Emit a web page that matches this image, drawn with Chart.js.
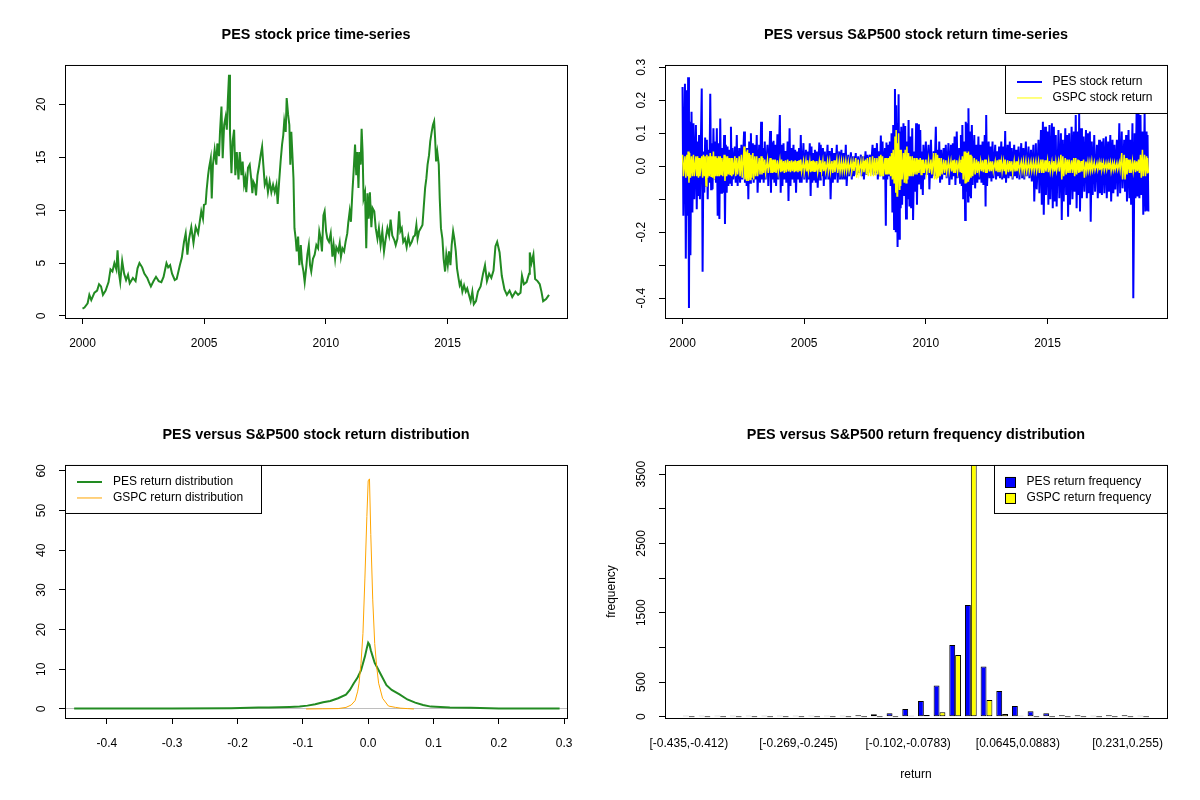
<!DOCTYPE html>
<html>
<head>
<meta charset="utf-8">
<title>PES vs S&amp;P500</title>
<script src="https://cdn.jsdelivr.net/npm/chart.js"></script>
<style>
  body { margin: 0; background: #fff; }
  #wrap { position: relative; width: 1200px; height: 800px; background: #fff; }
  #wrap canvas { position: absolute; }
</style>
</head>
<body>
<div id="wrap">
  <canvas id="c1" width="600" height="400" style="left:0;top:0"></canvas>
  <canvas id="c2" width="600" height="400" style="left:600px;top:0"></canvas>
  <canvas id="c3" width="600" height="400" style="left:0;top:400px"></canvas>
  <canvas id="c4" width="600" height="400" style="left:600px;top:400px"></canvas>
</div>
<script>
// ---- price series ----
const priceYears = [
  2000.00,2000.08,2000.21,2000.28,2000.36,2000.49,2000.60,2000.68,2000.76,2000.84,2000.95,
  2001.07,2001.15,2001.23,2001.31,2001.39,2001.44,2001.50,2001.55,2001.63,2001.71,2001.79,2001.87,2001.94,
  2002.07,2002.18,2002.26,2002.34,2002.45,2002.54,2002.66,2002.73,2002.81,2002.92,
  2003.02,2003.13,2003.24,2003.33,2003.45,2003.52,2003.60,2003.68,2003.79,2003.87,
  2004.00,2004.08,
  2004.17,2004.24,2004.31,2004.38,2004.47,2004.56,2004.65,2004.75,2004.83,2004.88,2004.95,2004.99,
  2005.06,2005.10,2005.16,2005.20,2005.27,2005.31,2005.36,2005.43,2005.50,2005.54,2005.61,2005.65,
  2005.71,2005.76,2005.82,2005.88,2005.93,2005.97,
  2006.02,2006.06,2006.12,2006.17,2006.23,2006.28,2006.34,2006.41,2006.46,2006.53,2006.58,2006.64,
  2006.69,2006.73,2006.80,2006.87,2006.93,2006.98,
  2007.02,2007.08,2007.13,2007.19,2007.25,2007.32,2007.38,2007.43,2007.49,2007.56,2007.62,2007.69,
  2007.76,2007.83,2007.90,2007.97,
  2008.02,2008.08,2008.14,2008.20,2008.25,2008.29,2008.35,2008.39,2008.45,2008.50,2008.54,2008.58,
  2008.62,2008.67,2008.71,2008.76,2008.80,2008.86,2008.91,2008.97,
  2009.02,2009.08,2009.13,2009.19,2009.24,2009.30,2009.35,2009.40,2009.47,2009.54,2009.61,2009.68,
  2009.73,2009.79,2009.84,2009.90,2009.95,
  2010.01,2010.06,2010.13,2010.20,2010.27,2010.32,2010.38,2010.43,2010.51,2010.57,2010.62,2010.68,
  2010.75,2010.81,2010.88,2010.92,2010.98,
  2011.03,2011.09,2011.14,2011.20,2011.25,2011.29,2011.34,2011.38,2011.43,2011.47,2011.51,2011.55,
  2011.61,2011.66,2011.71,2011.76,2011.81,2011.87,2011.92,2011.99,
  2012.05,2012.12,2012.18,2012.25,2012.32,2012.39,2012.46,2012.53,2012.60,2012.66,2012.73,2012.81,
  2012.87,2012.94,
  2013.01,2013.06,2013.12,2013.18,2013.25,2013.32,2013.39,2013.46,2013.53,2013.60,2013.66,2013.72,
  2013.77,2013.83,2013.90,2013.97,
  2014.02,2014.08,2014.13,2014.18,2014.24,2014.29,2014.35,2014.40,2014.45,2014.49,2014.53,2014.58,
  2014.64,2014.68,2014.73,2014.79,2014.84,2014.90,2014.95,
  2015.01,2015.06,2015.12,2015.17,2015.23,2015.28,2015.34,2015.39,2015.45,2015.50,2015.55,2015.61,
  2015.68,2015.75,2015.81,2015.88,2015.95,2016.02,
  2016.08,2016.17,2016.25,2016.36,2016.46,2016.54,2016.62,2016.71,2016.80,2016.89,2016.97,
  2017.04,2017.14,2017.23,2017.34,2017.44,2017.55,2017.66,2017.79,2017.90,
  2018.00,2018.06,2018.14,2018.25,2018.35,2018.38,2018.45,2018.53,2018.60,2018.70,2018.79,2018.86,2018.93,
  2019.05,2019.17
];
const priceValues = [
  0.7,0.8,1.2,2.0,1.5,2.2,2.4,3.0,2.8,2.0,2.4,
  3.2,4.4,4.2,5.0,4.4,6.2,4.0,3.2,5.2,4.0,3.4,3.9,3.1,
  3.6,3.3,4.5,5.0,4.6,4.0,3.6,3.2,2.8,3.3,
  3.7,3.3,3.2,3.7,5.0,4.6,4.8,4.0,3.4,3.5,
  4.8,5.5,
  7.0,7.8,5.8,7.3,8.4,6.9,8.4,7.8,9.1,9.9,9.2,10.5,
  10.6,11.9,13.3,14.0,14.9,11.1,14.3,15.7,14.3,16.3,15.1,17.4,
  19.8,14.9,18.05,18.8,17.6,20.3,
  22.8,17.4,13.5,16.5,17.6,13.3,15.5,12.9,15.5,13.3,14.6,12.4,
  13.0,11.7,14.0,14.3,13.0,11.6,
  12.7,12.4,11.4,13.3,14.1,15.2,16.0,14.3,12.4,12.9,11.7,12.7,
  11.7,12.4,11.7,12.4,
  10.6,12.7,14.6,16.2,17.1,18.4,17.4,20.6,19.0,18.05,14.3,17.4,
  15.5,13.0,8.3,7.3,6.1,7.5,4.8,6.7,
  5.0,4.2,3.2,4.5,5.8,6.7,4.8,4.2,5.4,5.8,6.7,6.4,
  8.0,7.3,6.1,9.5,9.9,
  8.0,7.3,7.0,7.8,5.6,6.7,5.4,6.5,6.1,6.9,5.6,6.4,
  6.1,7.0,7.8,8.8,9.9,
  8.9,11.7,13.6,16.2,13.3,15.5,12.1,15.5,14.3,17.7,15.5,11.1,
  11.7,6.4,11.6,9.2,11.7,8.4,10.2,9.9,
  8.3,7.3,8.3,6.7,8.0,6.1,7.3,8.3,7.6,9.1,7.6,7.2,
  6.7,7.3,
  9.9,8.0,8.3,7.0,7.3,6.5,7.5,6.7,7.0,7.5,7.6,8.6,
  7.3,8.0,8.3,8.6,
  10.2,12.1,13.0,14.3,15.2,16.5,17.4,18.05,18.4,16.8,14.6,15.5,
  14.3,11.1,8.3,7.3,5.4,4.2,5.8,
  4.8,6.1,4.8,6.7,8.0,7.3,6.1,4.5,3.6,2.9,3.2,2.3,
  2.9,2.3,2.6,2.0,1.4,2.3,
  1.1,1.4,2.3,2.8,4.0,4.8,3.3,4.0,3.6,4.3,6.6,
  7.0,6.0,3.8,2.5,2.0,2.4,1.8,2.3,2.0,
  2.2,3.8,3.0,3.2,4.0,6.0,5.0,5.8,3.5,3.3,3.0,2.3,1.4,
  1.6,2.0
];

// ---- daily returns, as swings up/down per short period ----
const retYears = [
  2000.00,2000.10,2000.18,2000.23,2000.29,2000.37,2000.45,2000.55,2000.62,2000.68,2000.79,2000.86,2000.93,
  2001.00,2001.07,2001.14,2001.20,2001.27,2001.34,2001.41,2001.48,2001.55,2001.62,2001.71,2001.78,2001.85,2001.92,2001.99,
  2002.05,2002.15,2002.23,2002.33,2002.42,2002.53,2002.60,2002.67,2002.74,2002.81,2002.89,2002.97,
  2003.05,2003.15,2003.23,2003.30,2003.38,2003.49,2003.60,2003.67,2003.74,2003.81,2003.90,
  2004.00,2004.07,2004.15,2004.23,2004.32,2004.40,2004.48,2004.56,2004.63,2004.71,2004.79,2004.86,2004.97,
  2005.07,2005.14,2005.23,2005.30,2005.37,2005.44,2005.52,2005.62,2005.68,2005.77,2005.85,2005.96,
  2006.05,2006.14,2006.23,2006.34,2006.44,2006.53,2006.62,2006.71,2006.81,2006.92,
  2007.01,2007.12,2007.22,2007.33,2007.42,2007.52,2007.60,2007.70,2007.81,2007.90,2007.99,
  2008.08,2008.15,2008.22,2008.32,2008.38,2008.45,2008.52,2008.59,2008.66,2008.73,2008.78,2008.82,2008.88,2008.93,2008.99,
  2009.08,2009.15,2009.22,2009.29,2009.36,2009.44,2009.52,2009.60,2009.68,2009.77,2009.84,2009.90,
  2010.00,2010.11,2010.21,2010.32,2010.41,2010.48,2010.55,2010.63,2010.73,2010.82,2010.93,
  2011.03,2011.11,2011.18,2011.27,2011.37,2011.44,2011.50,2011.58,2011.64,2011.70,2011.75,2011.82,2011.89,2011.99,
  2012.08,2012.16,2012.25,2012.33,2012.42,2012.48,2012.58,2012.66,2012.74,2012.85,2012.93,
  2013.01,2013.10,2013.19,2013.26,2013.36,2013.45,2013.53,2013.63,2013.71,2013.81,2013.92,
  2014.01,2014.11,2014.22,2014.32,2014.42,2014.52,2014.63,2014.73,2014.81,2014.90,
  2015.00,2015.08,2015.18,2015.26,2015.34,2015.45,2015.55,2015.63,2015.73,2015.81,2015.89,2015.99,
  2016.08,2016.16,2016.25,2016.30,2016.38,2016.48,2016.58,2016.66,2016.74,2016.82,2016.92,
  2017.03,2017.12,2017.20,2017.30,2017.40,2017.49,2017.58,2017.67,2017.75,2017.85,2017.95,
  2018.05,2018.15,2018.23,2018.33,2018.40,2018.49,2018.58,2018.66,2018.74,2018.82,2018.90,2018.99,
  2019.07,2019.11
];
const pesRetHigh = [
  0.24,0.25,0.23,0.27,0.135,0.165,0.13,0.125,0.075,0.095,0.236,0.045,0.087,
  0.08,0.05,0.22,0.07,0.115,0.075,0.115,0.07,0.145,0.055,0.095,0.065,0.06,0.05,0.12,
  0.055,0.06,0.095,0.055,0.065,0.105,0.055,0.055,0.075,0.10,0.07,0.065,
  0.095,0.065,0.135,0.055,0.075,0.065,0.107,0.073,0.077,0.065,0.097,
  0.155,0.065,0.07,0.046,0.075,0.115,0.055,0.065,0.05,0.045,0.055,0.095,0.07,
  0.05,0.045,0.07,0.06,0.04,0.05,0.045,0.072,0.065,0.055,0.045,0.065,
  0.046,0.055,0.04,0.065,0.045,0.05,0.04,0.065,0.035,0.042,
  0.03,0.04,0.03,0.035,0.03,0.045,0.035,0.035,0.065,0.055,0.07,
  0.045,0.093,0.075,0.055,0.072,0.065,0.075,0.10,0.125,0.234,0.185,0.13,0.218,0.105,0.12,
  0.13,0.122,0.075,0.14,0.09,0.115,0.045,0.13,0.127,0.11,0.045,0.065,
  0.075,0.065,0.08,0.045,0.12,0.05,0.075,0.05,0.055,0.065,0.07,
  0.065,0.07,0.09,0.105,0.055,0.095,0.125,0.075,0.135,0.13,0.176,0.105,0.125,0.095,
  0.065,0.09,0.065,0.075,0.095,0.155,0.075,0.06,0.075,0.065,0.045,
  0.06,0.075,0.06,0.107,0.065,0.075,0.055,0.065,0.05,0.06,0.07,
  0.055,0.075,0.06,0.05,0.065,0.07,0.08,0.11,0.135,0.12,
  0.105,0.125,0.13,0.12,0.095,0.11,0.10,0.08,0.115,0.095,0.10,0.12,
  0.105,0.155,0.105,0.16,0.115,0.09,0.11,0.10,0.105,0.075,0.095,
  0.065,0.08,0.075,0.085,0.09,0.075,0.095,0.08,0.065,0.08,0.13,
  0.105,0.08,0.095,0.11,0.08,0.13,0.10,0.16,0.165,0.155,0.105,0.16,
  0.105,0.095
];
const pesRetLow = [
  -0.15,-0.28,-0.15,-0.43,-0.27,-0.14,-0.10,-0.13,-0.09,-0.10,-0.32,-0.08,-0.06,
  -0.10,-0.05,-0.07,-0.07,-0.04,-0.05,-0.15,-0.16,-0.08,-0.08,-0.175,-0.08,-0.06,-0.05,-0.06,
  -0.04,-0.05,-0.06,-0.05,-0.04,-0.05,-0.06,-0.10,-0.05,-0.04,-0.05,-0.04,
  -0.08,-0.05,-0.04,-0.05,-0.04,-0.06,-0.08,-0.04,-0.05,-0.06,-0.04,
  -0.08,-0.06,-0.04,-0.05,-0.105,-0.06,-0.04,-0.05,-0.08,-0.04,-0.05,-0.05,-0.04,
  -0.05,-0.04,-0.09,-0.05,-0.04,-0.05,-0.065,-0.04,-0.03,-0.06,-0.04,-0.04,
  -0.10,-0.05,-0.04,-0.05,-0.04,-0.04,-0.04,-0.06,-0.03,-0.04,
  -0.03,-0.026,-0.02,-0.03,-0.04,-0.026,-0.02,-0.016,-0.026,-0.02,-0.04,
  -0.03,-0.026,-0.04,-0.18,-0.04,-0.03,-0.06,-0.14,-0.19,-0.20,-0.09,-0.245,-0.22,-0.127,-0.117,
  -0.09,-0.158,-0.10,-0.122,-0.127,-0.163,-0.077,-0.117,-0.055,-0.067,-0.087,-0.04,
  -0.026,-0.07,-0.036,-0.03,-0.036,-0.03,-0.05,-0.04,-0.026,-0.036,-0.057,
  -0.04,-0.03,-0.057,-0.036,-0.05,-0.06,-0.10,-0.163,-0.077,-0.107,-0.092,-0.097,-0.057,-0.067,
  -0.05,-0.04,-0.05,-0.057,-0.122,-0.06,-0.036,-0.046,-0.036,-0.04,-0.03,
  -0.036,-0.04,-0.036,-0.05,-0.036,-0.03,-0.04,-0.03,-0.036,-0.04,-0.036,
  -0.04,-0.03,-0.036,-0.046,-0.107,-0.07,-0.082,-0.117,-0.147,-0.087,
  -0.117,-0.10,-0.127,-0.107,-0.122,-0.097,-0.163,-0.107,-0.087,-0.153,-0.117,-0.10,
  -0.077,-0.127,-0.087,-0.137,-0.097,-0.077,-0.097,-0.082,-0.168,-0.087,-0.077,
  -0.097,-0.082,-0.087,-0.082,-0.097,-0.077,-0.107,-0.082,-0.07,-0.092,-0.082,
  -0.067,-0.077,-0.107,-0.097,-0.117,-0.40,-0.097,-0.092,-0.097,-0.087,-0.147,-0.137,
  -0.132,-0.137
];
const gspcRetHigh = [
  0.035,0.03,0.035,0.045,0.04,0.03,0.035,0.03,0.03,0.025,0.03,0.035,0.03,
  0.035,0.03,0.04,0.03,0.045,0.03,0.025,0.03,0.03,0.025,0.035,0.03,0.03,0.025,0.025,
  0.025,0.03,0.025,0.03,0.035,0.06,0.045,0.05,0.04,0.035,0.04,0.03,
  0.03,0.025,0.03,0.025,0.02,0.02,0.025,0.02,0.02,0.02,0.018,
  0.018,0.02,0.016,0.018,0.02,0.016,0.018,0.015,0.018,0.016,0.018,0.02,0.016,
  0.016,0.018,0.015,0.016,0.018,0.015,0.016,0.015,0.018,0.016,0.015,0.016,
  0.015,0.016,0.018,0.02,0.016,0.015,0.014,0.016,0.014,0.015,
  0.014,0.025,0.02,0.015,0.016,0.02,0.025,0.028,0.03,0.025,0.025,
  0.03,0.035,0.03,0.025,0.025,0.025,0.03,0.04,0.05,0.09,0.11,0.07,0.10,0.05,0.05,
  0.04,0.05,0.06,0.04,0.03,0.03,0.025,0.025,0.02,0.025,0.02,0.02,
  0.02,0.02,0.02,0.04,0.04,0.035,0.025,0.025,0.02,0.018,0.016,
  0.016,0.018,0.02,0.018,0.016,0.02,0.03,0.045,0.045,0.04,0.045,0.035,0.03,0.025,
  0.02,0.015,0.015,0.018,0.02,0.02,0.016,0.015,0.015,0.015,0.018,
  0.02,0.015,0.015,0.02,0.018,0.016,0.015,0.016,0.015,0.014,0.014,
  0.015,0.016,0.014,0.014,0.014,0.015,0.016,0.02,0.02,0.018,
  0.018,0.016,0.014,0.016,0.014,0.016,0.035,0.03,0.025,0.02,0.02,0.018,
  0.025,0.025,0.02,0.018,0.016,0.02,0.014,0.012,0.012,0.015,0.012,
  0.01,0.012,0.01,0.012,0.01,0.01,0.012,0.01,0.01,0.01,0.012,
  0.04,0.035,0.025,0.02,0.02,0.015,0.018,0.015,0.02,0.035,0.05,0.035,
  0.03,0.025
];
const gspcRetLow = [
  -0.03,-0.035,-0.03,-0.05,-0.035,-0.03,-0.03,-0.03,-0.035,-0.03,-0.035,-0.03,-0.06,
  -0.035,-0.03,-0.03,-0.035,-0.04,-0.03,-0.03,-0.03,-0.025,-0.03,-0.045,-0.03,-0.025,-0.025,-0.03,
  -0.025,-0.03,-0.025,-0.03,-0.035,-0.04,-0.045,-0.045,-0.04,-0.035,-0.04,-0.03,
  -0.03,-0.025,-0.025,-0.02,-0.02,-0.02,-0.02,-0.02,-0.018,-0.02,-0.018,
  -0.018,-0.016,-0.02,-0.018,-0.016,-0.018,-0.015,-0.018,-0.016,-0.018,-0.015,-0.016,-0.018,
  -0.016,-0.015,-0.018,-0.016,-0.015,-0.016,-0.018,-0.015,-0.016,-0.015,-0.016,-0.015,
  -0.016,-0.02,-0.018,-0.02,-0.016,-0.015,-0.014,-0.015,-0.014,-0.015,
  -0.014,-0.035,-0.02,-0.016,-0.018,-0.025,-0.03,-0.03,-0.03,-0.028,-0.025,
  -0.03,-0.03,-0.03,-0.025,-0.025,-0.025,-0.03,-0.04,-0.05,-0.08,-0.09,-0.09,-0.07,-0.06,-0.04,
  -0.05,-0.05,-0.04,-0.03,-0.03,-0.03,-0.025,-0.025,-0.02,-0.025,-0.02,-0.02,
  -0.02,-0.02,-0.025,-0.04,-0.04,-0.035,-0.03,-0.025,-0.02,-0.018,-0.016,
  -0.016,-0.02,-0.02,-0.018,-0.016,-0.02,-0.04,-0.05,-0.05,-0.045,-0.04,-0.035,-0.03,-0.025,
  -0.02,-0.015,-0.015,-0.018,-0.02,-0.02,-0.016,-0.015,-0.015,-0.015,-0.018,
  -0.018,-0.015,-0.015,-0.025,-0.018,-0.016,-0.02,-0.016,-0.015,-0.014,-0.014,
  -0.018,-0.016,-0.014,-0.014,-0.014,-0.015,-0.02,-0.02,-0.02,-0.016,
  -0.018,-0.016,-0.014,-0.016,-0.014,-0.016,-0.04,-0.03,-0.025,-0.02,-0.02,-0.02,
  -0.03,-0.025,-0.02,-0.018,-0.016,-0.035,-0.014,-0.012,-0.012,-0.012,-0.012,
  -0.01,-0.012,-0.01,-0.012,-0.01,-0.01,-0.015,-0.01,-0.01,-0.01,-0.01,
  -0.04,-0.04,-0.025,-0.02,-0.02,-0.015,-0.018,-0.015,-0.02,-0.035,-0.03,-0.03,
  -0.02,-0.02
];

// ---- kernel densities ----
const pesDensX = [-0.45,-0.30,-0.21,-0.168,-0.152,-0.12,-0.105,-0.093,-0.081,-0.069,-0.058,-0.046,-0.034,-0.028,-0.022,-0.016,-0.011,-0.005,-0.002,0.0,0.002,0.004,0.007,0.010,0.013,0.019,0.028,0.036,0.048,0.06,0.072,0.084,0.096,0.125,0.157,0.20,0.293];
const pesDensY = [0.12,0.14,0.18,0.35,0.4,0.5,0.6,0.85,1.2,1.7,2.0,2.7,3.6,4.8,6.5,8.0,9.7,13.2,15.4,16.7,16.2,14.8,13.2,11.6,10.7,8.8,6.0,4.8,3.7,2.4,1.6,1.0,0.6,0.4,0.3,0.15,0.12];
const gspcDensX = [-0.095,-0.07,-0.046,-0.034,-0.026,-0.02,-0.016,-0.014,-0.011,-0.008,-0.005,-0.002,0.0,0.002,0.004,0.007,0.010,0.013,0.016,0.022,0.031,0.042,0.05,0.06,0.07];
const gspcDensY = [0.0,0.05,0.1,0.4,1.0,2.1,4.5,6.5,11.5,19,33,48.5,57.5,58,44,27.5,16.5,10.7,6.5,2.7,0.75,0.4,0.2,0.1,0.0];

// ---- histogram ----
const binLabels = [
  '[-0.435,-0.412)','[-0.412,-0.388)','[-0.388,-0.364)','[-0.364,-0.34)','[-0.34,-0.316)',
  '[-0.316,-0.293)','[-0.293,-0.269)','[-0.269,-0.245)','[-0.245,-0.221)','[-0.221,-0.197)',
  '[-0.197,-0.174)','[-0.174,-0.15)','[-0.15,-0.126)','[-0.126,-0.102)','[-0.102,-0.0783)',
  '[-0.0783,-0.0545)','[-0.0545,-0.0307)','[-0.0307,-0.00693)','[-0.00693,0.0169)','[0.0169,0.0407)',
  '[0.0407,0.0645)','[0.0645,0.0883)','[0.0883,0.112)','[0.112,0.136)','[0.136,0.16)',
  '[0.16,0.183)','[0.183,0.207)','[0.207,0.231)','[0.231,0.255)','[0.255,0.279]'
];
const pesFreq  = [2,1,1,2,1,1,2,1,2,2,3,20,35,50,110,225,450,1035,1610,725,370,155,80,50,20,20,10,20,20,5];
const gspcFreq = [0,0,0,0,0,0,0,0,0,0,0,0,0,0,10,25,65,890,3760,240,40,5,0,0,0,0,0,0,0,0];

const yearTicks = [2000, 2005, 2010, 2015];
const shownBinTicks = [0, 7, 14, 21, 28];

// ---- styling helpers ----
const FAMILY = "'Liberation Sans', Arial, sans-serif";
Chart.defaults.font.family = FAMILY;
Chart.defaults.font.size = 12;
Chart.defaults.color = '#000';

const titleOpts = text => ({
  display: true, text: text, color: '#000',
  font: { size: 14.4, weight: 'bold' },
  padding: { top: 26.4, bottom: 21.3 }
});

// R-like frame: box, rotated y labels, boxed legend
function rFrame(cfg) {
  return {
    id: 'rFrame',
    afterLayout(chart) {
      const a = chart.chartArea, t = chart.titleBlock;
      if (t) { t.left = a.left; t.right = a.right; }
    },
    afterDraw(chart) {
      const ctx = chart.ctx, a = chart.chartArea, ys = chart.scales.y;
      ctx.save();
      ctx.strokeStyle = '#000';
      ctx.lineWidth = 1;
      ctx.strokeRect(a.left + 0.5, a.top + 0.5, a.right - a.left, a.bottom - a.top);

      ctx.font = '12px ' + FAMILY;
      ctx.fillStyle = '#000';
      ctx.textAlign = 'center';
      ctx.textBaseline = 'middle';
      cfg.yLabels.forEach(([v, s]) => {
        ctx.save();
        ctx.translate(a.left - 23, ys.getPixelForValue(v));
        ctx.rotate(-Math.PI / 2);
        ctx.fillText(s, 0, 0);
        ctx.restore();
      });

      const L = cfg.legend;
      if (L) {
        const lx = L.side === 'left' ? a.left : a.right - L.w;
        const ly = a.top;
        ctx.fillStyle = '#fff';
        ctx.fillRect(lx, ly, L.w, 48);
        ctx.strokeRect(lx + 0.5, ly + 0.5, L.w, 48);
        L.items.forEach((it, i) => {
          const cy = ly + 17 + 16 * i;
          if (it.box) {
            ctx.fillStyle = it.color;
            ctx.fillRect(lx + 11, cy - 5, 10, 10);
            ctx.strokeStyle = '#000';
            ctx.lineWidth = 1;
            ctx.strokeRect(lx + 11.5, cy - 4.5, 10, 10);
          } else {
            ctx.strokeStyle = it.color;
            ctx.lineWidth = it.width;
            ctx.beginPath();
            ctx.moveTo(lx + 12, cy);
            ctx.lineTo(lx + 37, cy);
            ctx.stroke();
          }
          ctx.fillStyle = '#000';
          ctx.textAlign = 'left';
          ctx.fillText(it.label, lx + L.textX, cy);
        });
      }
      ctx.restore();
    }
  };
}

function xLinear(min, max, tickValues, fmt) {
  return {
    type: 'linear', min: min, max: max,
    afterBuildTicks: s => { s.ticks = tickValues.map(v => ({ value: v })); },
    ticks: { callback: fmt, padding: 12, maxRotation: 0, autoSkip: false, color: '#000' },
    grid: { drawOnChartArea: false, tickLength: 6, tickColor: '#000' },
    border: { display: false },
    afterFit: s => { s.height = 82; }
  };
}
function yLinear(min, max, tickValues, extra) {
  return Object.assign({
    min: min, max: max,
    afterBuildTicks: s => { s.ticks = tickValues.map(v => ({ value: v })); },
    ticks: { display: false },
    grid: { drawOnChartArea: false, tickLength: 6, tickColor: '#000' },
    border: { display: false },
    afterFit: s => { s.width = 65; }
  }, extra || {});
}
const baseOpts = {
  responsive: false,
  animation: false,
  layout: { padding: { right: 33 } }
};
const noLegend = { display: false };
const noTip = { enabled: false };

function zigzag(years, hi, lo) {
  const pts = [];
  for (let i = 0; i < years.length; i++) {
    pts.push({ x: years[i], y: hi[i] });
    pts.push({ x: years[i] + 0.035, y: lo[i] });
  }
  return pts;
}
const pairs = (xs, ys) => xs.map((x, i) => ({ x: x, y: ys[i] }));

// 1. price
new Chart(document.getElementById('c1'), {
  type: 'line',
  data: { datasets: [{
    data: pairs(priceYears, priceValues),
    borderColor: '#228B22', borderWidth: 2, pointRadius: 0, tension: 0
  }] },
  options: Object.assign({}, baseOpts, {
    plugins: { legend: noLegend, tooltip: noTip, title: titleOpts('PES stock price time-series') },
    scales: {
      x: xLinear(1999.28, 2019.91, yearTicks, v => String(v)),
      y: yLinear(-0.19, 23.72, [0, 5, 10, 15, 20])
    }
  }),
  plugins: [rFrame({ yLabels: [[0, '0'], [5, '5'], [10, '10'], [15, '15'], [20, '20']] })]
});

// 2. returns
new Chart(document.getElementById('c2'), {
  type: 'line',
  data: { datasets: [
    { data: zigzag(retYears, pesRetHigh, pesRetLow), borderColor: '#0000FF', borderWidth: 2,
      pointRadius: 0, tension: 0, order: 1 },
    { data: zigzag(retYears, gspcRetHigh, gspcRetLow), borderColor: '#FFFF00', borderWidth: 1.5,
      pointRadius: 0, tension: 0, order: 0 }
  ] },
  options: Object.assign({}, baseOpts, {
    plugins: { legend: noLegend, tooltip: noTip, title: titleOpts('PES versus S&P500 stock return time-series') },
    scales: {
      x: xLinear(1999.28, 2019.91, yearTicks, v => String(v)),
      y: yLinear(-0.46, 0.307, [-0.4, -0.3, -0.2, -0.1, 0, 0.1, 0.2, 0.3])
    }
  }),
  plugins: [rFrame({
    yLabels: [[-0.4, '-0.4'], [-0.2, '-0.2'], [0, '0.0'], [0.1, '0.1'], [0.2, '0.2'], [0.3, '0.3']],
    legend: { side: 'right', w: 162, textX: 47.5, items: [
      { label: 'PES stock return', color: '#0000FF', width: 2 },
      { label: 'GSPC stock return', color: '#FFFF00', width: 1 }
    ] }
  })]
});

// 3. densities
new Chart(document.getElementById('c3'), {
  type: 'line',
  data: { datasets: [
    { data: pairs(pesDensX, pesDensY), borderColor: '#228B22', borderWidth: 2, pointRadius: 0, tension: 0, order: 1 },
    { data: pairs(gspcDensX, gspcDensY), borderColor: '#FFA500', borderWidth: 1, pointRadius: 0, tension: 0, order: 0 }
  ] },
  options: Object.assign({}, baseOpts, {
    plugins: { legend: noLegend, tooltip: noTip, title: titleOpts('PES versus S&P500 stock return distribution') },
    scales: {
      x: xLinear(-0.464, 0.3043, [-0.4, -0.3, -0.2, -0.1, 0, 0.1, 0.2, 0.3], v => v.toFixed(1)),
      y: yLinear(-2.27, 61.5, [0, 10, 20, 30, 40, 50, 60], {
        grid: {
          drawOnChartArea: true, tickLength: 6, tickColor: '#000',
          color: c => (c.tick && c.tick.value === 0) ? '#BEBEBE' : 'rgba(0,0,0,0)'
        }
      })
    }
  }),
  plugins: [rFrame({
    yLabels: [[0, '0'], [10, '10'], [20, '20'], [30, '30'], [40, '40'], [50, '50'], [60, '60']],
    legend: { side: 'left', w: 196, textX: 48, items: [
      { label: 'PES return distribution', color: '#228B22', width: 2 },
      { label: 'GSPC return distribution', color: '#FFA500', width: 1 }
    ] }
  })]
});

// 4. histogram of returns
const barCommon = { borderColor: '#000', borderWidth: 1, borderSkipped: false,
  categoryPercentage: 0.75, barPercentage: 1, minBarLength: 1 };
new Chart(document.getElementById('c4'), {
  type: 'bar',
  data: { datasets: [
    Object.assign({ data: pesFreq.map((v, i) => ({ x: i, y: v })), backgroundColor: '#0000FF' }, barCommon),
    Object.assign({ data: gspcFreq.map((v, i) => ({ x: i, y: v })), backgroundColor: '#FFFF00' }, barCommon)
  ] },
  options: Object.assign({}, baseOpts, {
    plugins: { legend: noLegend, tooltip: noTip, title: titleOpts('PES versus S&P500 return frequency distribution') },
    scales: {
      x: {
        type: 'linear', min: -1.52, max: 30.52, offset: false,
        afterBuildTicks: s => { s.ticks = shownBinTicks.map(v => ({ value: v })); },
        ticks: { callback: v => binLabels[v], padding: 18, maxRotation: 0, autoSkip: false, color: '#000' },
        grid: { display: false, drawTicks: false },
        border: { display: false },
        title: { display: true, text: 'return', color: '#000', padding: { top: 0, bottom: 17.8 } },
        afterFit: s => { s.height = 82; }
      },
      y: yLinear(-19, 3632, [0, 500, 1000, 1500, 2000, 2500, 3000, 3500], {
        title: { display: true, text: 'frequency', color: '#000', padding: { top: 4.3, bottom: 0 } }
      })
    }
  }),
  plugins: [rFrame({
    yLabels: [[0, '0'], [500, '500'], [1500, '1500'], [2500, '2500'], [3500, '3500']],
    legend: { side: 'right', w: 173, textX: 32.5, items: [
      { label: 'PES return frequency', color: '#0000FF', box: true },
      { label: 'GSPC return frequency', color: '#FFFF00', box: true }
    ] }
  })]
});
</script>
</body>
</html>
